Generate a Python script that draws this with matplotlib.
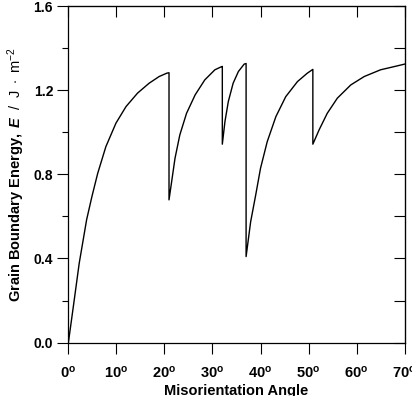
import matplotlib
matplotlib.use("Agg")
import matplotlib.pyplot as plt
import numpy as np

plt.rcParams['font.family'] = ['Liberation Sans', 'DejaVu Sans']
plt.rcParams['mathtext.fontset'] = 'custom'
plt.rcParams['mathtext.rm'] = 'Liberation Sans'
plt.rcParams['mathtext.bf'] = 'Liberation Sans:bold'
plt.rcParams['mathtext.bfit'] = 'Liberation Sans:bold:italic'
plt.rcParams['mathtext.it'] = 'Liberation Sans:italic'

# misorientation angle (deg) and boundary energy (J/m^2)
theta = [0.0, 1.2, 2.25, 3.8, 4.9, 6.1, 7.8, 9.9, 12.0, 14.4, 16.8, 18.9, 20.5, 20.95,
         20.95, 21.5, 22.2, 23.2, 24.6, 26.4, 28.4, 30.5, 31.9, 32.05,
         32.05, 32.6, 33.3, 34.3, 35.4, 36.6, 37.0,
         37.0, 37.95, 39.0, 40.0, 41.4, 43.2, 45.25, 47.7, 49.75, 50.9,
         50.9, 52.2, 53.9, 56.0, 58.8, 61.6, 65.0, 67.8, 70.0]
energy = [0.0, 0.20, 0.377, 0.585, 0.695, 0.805, 0.932, 1.044, 1.123, 1.187, 1.234, 1.266, 1.282, 1.284,
          0.679, 0.766, 0.877, 0.988, 1.091, 1.179, 1.25, 1.298, 1.313, 1.314,
          0.944, 1.052, 1.147, 1.234, 1.29, 1.325, 1.328,
          0.409, 0.575, 0.702, 0.829, 0.956, 1.075, 1.17, 1.242, 1.282, 1.300,
          0.944, 1.012, 1.091, 1.163, 1.226, 1.266, 1.298, 1.313, 1.325]

xticks = [0, 10, 20, 30, 40, 50, 60, 70]
xticklabels = [r'$\mathbf{%d^o}$' % t for t in xticks]
yticks = [0.0, 0.4, 0.8, 1.2, 1.6]

fig = plt.figure(figsize=(4.12, 3.96), dpi=100)
ax = fig.add_axes([0.166, 0.135, 0.816, 0.849])

ax.plot(theta, energy, color='black', lw=1.0)

ax.set_xlim(0, 70)
ax.set_ylim(0, 1.6)
ax.set_xticks(xticks)
ax.set_xticklabels(xticklabels, fontsize=10.5)
ax.set_yticks(yticks)
ax.set_yticklabels(['%.1f' % v for v in yticks], fontsize=10, fontweight='bold')
ax.set_yticks(np.arange(0.2, 1.6, 0.4), minor=True)

ax.tick_params(axis='x', which='major', direction='out', length=8, width=0.8,
               pad=8, top=False)
ax.tick_params(axis='y', which='major', direction='out', length=8, width=0.8,
               pad=3, right=False)
ax.tick_params(axis='y', which='minor', direction='out', length=4, width=0.8,
               right=False)

for sp in ax.spines.values():
    sp.set_linewidth(0.9)

# inward ticks on top and right
top = ax.secondary_xaxis('top')
top.set_xticks(xticks)
top.tick_params(direction='in', length=8, width=0.8, labeltop=False)
right = ax.secondary_yaxis('right')
right.set_yticks(np.arange(0, 1.61, 0.2))
right.tick_params(direction='in', length=8, width=0.8, labelright=False)

ax.set_xlabel('Misorientation Angle', fontsize=10.5, fontweight='bold', labelpad=2)
ax.set_ylabel(r'$\mathbf{Grain\ Boundary\ Energy,}\ \mathbfit{E}\ \ /\ \ \mathrm{J\ \cdot\ m^{-2}}$',
              fontsize=10.5, labelpad=5)

fig.savefig('out.png', dpi=100)
